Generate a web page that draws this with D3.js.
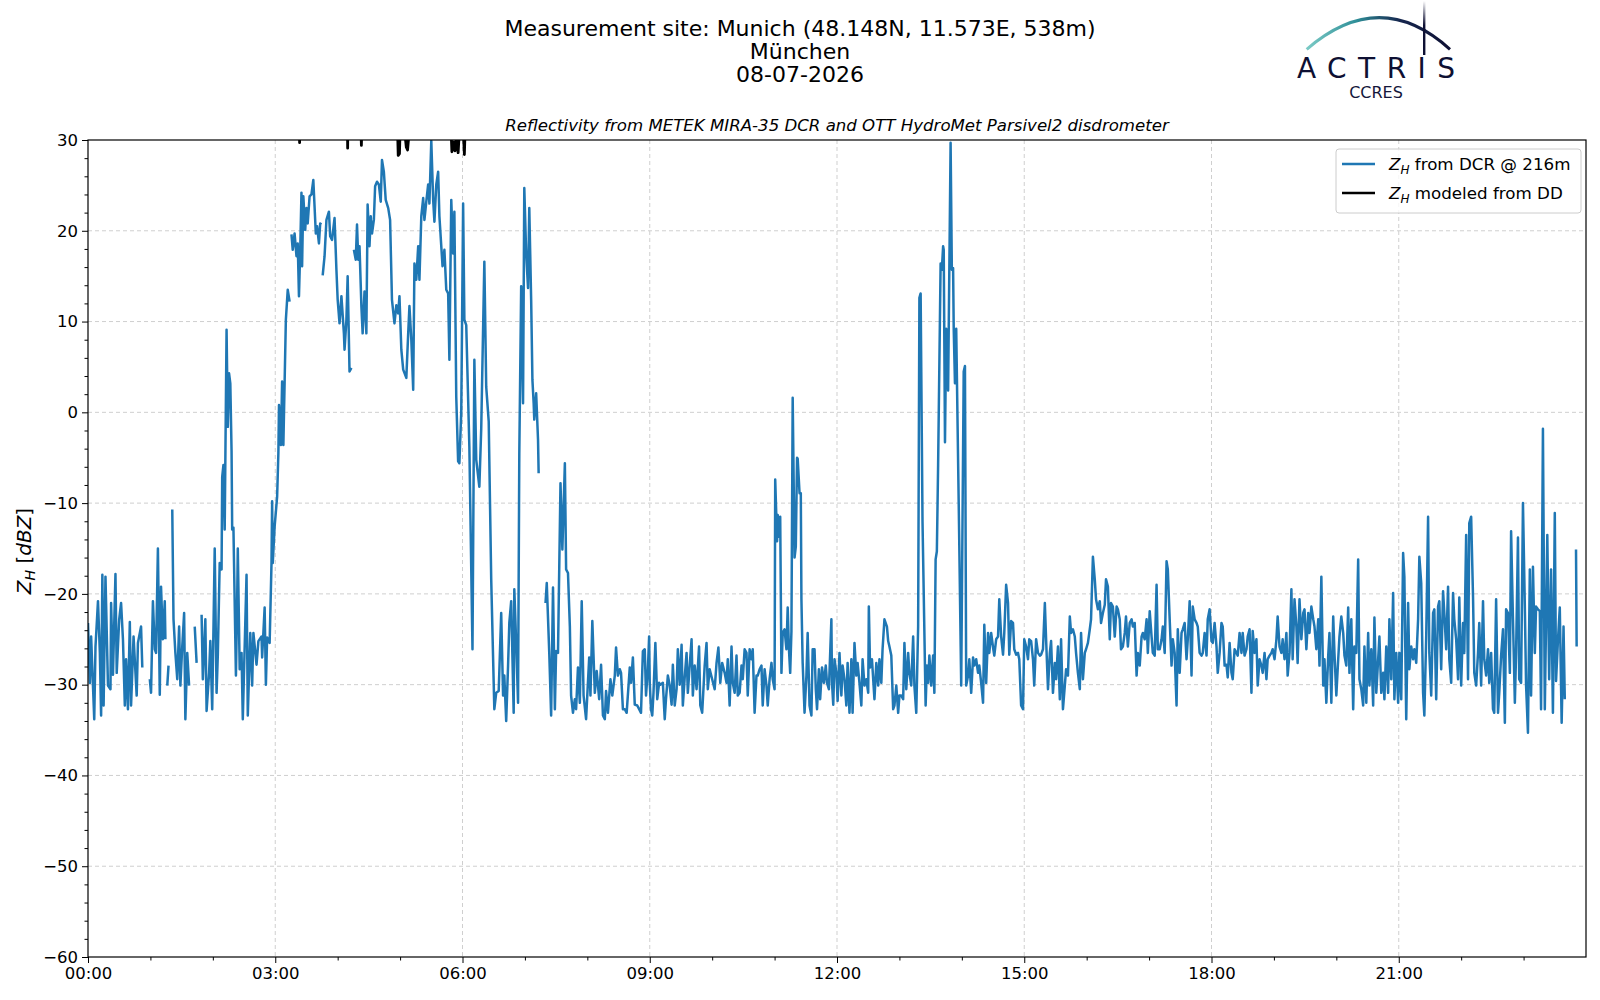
<!DOCTYPE html>
<html lang="en">
<head>
    <title>Reflectivity Munich</title>
    <meta charset="utf-8">
    <script src="https://d3js.org/d3.v7.min.js"></script>
    <style>
        body { margin: 0; background: #fff; }
        text { font-family: "DejaVu Sans", sans-serif; }
    </style>
</head>
<body>
<div id="chart"></div>
<script>

    // Hour axis ticks (major every 3 h, minor every hour)
    const majorHours = [0, 3, 6, 9, 12, 15, 18, 21];
    const minorHours = [1, 2, 4, 5, 7, 8, 10, 11, 13, 14, 16, 17, 19, 20, 22, 23];
    const majorZ = [-60, -50, -40, -30, -20, -10, 0, 10, 20, 30];

    const titleLines = ["Measurement site: Munich (48.148N, 11.573E, 538m)", "München", "08-07-2026"];
    const subTitle = "Reflectivity from METEK MIRA-35 DCR and OTT HydroMet Parsivel2 disdrometer";

    // Z_H from the cloud radar at 216 m: [hour of day, dBZ], null = no data
    const dcrZh = [
        [0.00,-23.2],[0.03,-29.8],[0.05,-24.7],[0.10,-33.8],[0.12,-25.8],[0.16,-20.8],[0.19,-26.5],[0.21,-33.4],
        [0.23,-17.9],[0.25,-32.3],[0.28,-18.1],[0.32,-30.1],[0.36,-30.5],[0.37,-21],[0.40,-28.9],[0.44,-17.8],
        [0.46,-28.7],[0.50,-22.8],[0.53,-21],[0.56,-25],[0.59,-32.3],[0.61,-27.2],[0.64,-32.7],[0.67,-23.1],
        [0.69,-32.3],[0.73,-24.7],[0.78,-31.2],[0.80,-25.4],[0.85,-23.6],[0.87,-28.1],[0.93,null],
        [0.99,-29.4],[1.01,-30.9],[1.04,-20.8],[1.07,-26.1],[1.09,-26.5],[1.12,-15],[1.15,-31.1],[1.17,-19.2],
        [1.20,-25],[1.23,-20.8],[1.24,-25],[1.255,null],[1.27,-30.1],[1.29,-27.9],[1.32,null],
        [1.35,-10.7],[1.37,-22.8],[1.40,-26.5],[1.43,-29.4],[1.46,-23.6],[1.48,-30.1],[1.51,-25.8],[1.54,-22.1],
        [1.56,-33.8],[1.59,-26.5],[1.62,-30.1],[1.66,null],[1.71,-23.6],[1.74,-27.6],[1.78,null],
        [1.82,-22.3],[1.84,-29.4],[1.88,-22.8],[1.90,-32.9],[1.94,-28.7],[1.96,-25.2],[1.99,-32.7],[2.03,-15],
        [2.06,-30.9],[2.08,-26.7],[2.11,-16.6],[2.14,-17.3],[2.15,-7.1],[2.17,-5.8],[2.19,-12.9],[2.22,9.1],
        [2.24,-1.6],[2.26,4.3],[2.28,3.2],[2.30,-4.2],[2.31,-12.9],[2.33,-12.7],[2.37,-29],[2.39,-20.6],
        [2.40,-15],[2.43,-28.3],[2.46,-26.5],[2.48,-33.8],[2.54,-17.9],[2.56,-33.4],[2.60,-24.3],[2.63,-30.1],
        [2.65,-24.3],[2.70,-27.8],[2.73,-25.2],[2.78,-24.7],[2.79,-27],[2.83,-21.5],[2.85,-30],[2.87,-24.8],
        [2.91,-25.4],[2.94,-16.6],[2.95,-9.8],[2.96,-16.6],[2.99,-12.6],[3.03,-9.3],[3.05,-4.5],[3.06,0.8],
        [3.09,-3.6],[3.11,3.4],[3.13,-3.6],[3.17,10.2],[3.20,13.5],[3.23,12.2],[3.245,null],
        [3.26,19.6],[3.28,17.9],[3.31,19.7],[3.34,17.2],[3.36,18.6],[3.38,12.8],[3.40,17.9],[3.42,24.2],
        [3.43,16.1],[3.45,23.8],[3.48,20.1],[3.50,22.5],[3.52,20.8],[3.55,23.8],[3.58,24],[3.61,25.6],
        [3.65,19.7],[3.67,20.5],[3.70,18.6],[3.72,20.8],[3.74,20.7],[3.75,null],
        [3.76,15.1],[3.79,17.2],[3.82,21.2],[3.86,22.1],[3.88,19.4],[3.91,19],[3.95,21.4],[3.98,15.7],
        [4.00,12.4],[4.03,9.8],[4.06,12.8],[4.10,8.7],[4.11,6.9],[4.14,10.2],[4.16,15],[4.19,4.5],
        [4.22,4.9],[4.24,null],
        [4.26,17.9],[4.29,16.8],[4.31,20.7],[4.33,16.8],[4.35,18.3],[4.38,11.7],[4.40,8.7],[4.43,13.3],
        [4.46,8.7],[4.48,22.9],[4.51,18.3],[4.53,21.6],[4.55,19.7],[4.58,21.2],[4.60,24.9],[4.63,25.4],
        [4.66,25.1],[4.69,23.2],[4.71,27.8],[4.74,26.5],[4.77,23.4],[4.81,22.5],[4.84,21.2],[4.87,12.4],
        [4.91,9.8],[4.94,11.8],[4.97,10.9],[4.99,12.8],[5.02,6.9],[5.05,4.7],[5.10,3.8],[5.13,8.7],
        [5.15,11.7],[5.18,8],[5.21,2.5],[5.23,16.4],[5.26,14.6],[5.29,18.3],[5.31,14.6],[5.34,21.6],
        [5.37,23.6],[5.39,21.2],[5.42,23.2],[5.45,25.1],[5.47,23],[5.50,29.9],[5.53,23.4],[5.55,21],
        [5.58,25.1],[5.61,26.5],[5.63,21.6],[5.68,16.1],[5.71,17.9],[5.74,13.5],[5.77,13.1],[5.79,5.8],
        [5.82,23.4],[5.85,17.5],[5.87,22.1],[5.90,1.7],[5.93,-5.4],[5.95,-5.6],[5.98,0],[6.01,23],
        [6.03,10.2],[6.06,9.6],[6.11,-3.8],[6.16,-26.1],[6.19,5.8],[6.22,-5.2],[6.27,-8.2],[6.30,-1.8],
        [6.35,16.6],[6.38,2.8],[6.42,-1],[6.46,-18.4],[6.51,-32.7],[6.54,-30.9],[6.58,-30.7],[6.62,-22.1],
        [6.65,-31.2],[6.67,-29],[6.70,-34],[6.73,-27.9],[6.75,-23.2],[6.78,-20.8],[6.82,-33.1],[6.83,-19.5],
        [6.86,-25.4],[6.89,-32],[6.91,-4.5],[6.94,13.9],[6.97,1],[6.99,24.7],[7.02,17.5],[7.05,13.7],
        [7.07,22.5],[7.10,12.4],[7.12,3.6],[7.14,1],[7.15,-0.8],[7.18,2.1],[7.21,-3],[7.22,-6.7],[7.28,null],
        [7.33,-21],[7.35,-18.8],[7.39,-26.5],[7.42,-33.4],[7.45,-19.3],[7.48,-32.7],[7.50,-26.3],[7.53,-26.5],
        [7.57,-7.8],[7.60,-15.1],[7.64,-5.6],[7.66,-17.3],[7.69,-17.7],[7.72,-23.6],[7.74,-31.2],[7.77,-33.1],
        [7.80,-31.6],[7.82,-32.7],[7.85,-28.1],[7.88,-32],[7.91,-20.8],[7.94,-31.2],[7.98,-33.8],[8.03,-27],
        [8.05,-31.2],[8.08,-23],[8.12,-30.9],[8.15,-28.5],[8.19,-31.6],[8.22,-27.8],[8.25,-33.4],[8.28,-33.8],
        [8.30,-30.7],[8.33,-33.1],[8.37,-29.4],[8.40,-31.2],[8.44,-29],[8.46,-25.9],[8.49,-29],[8.52,-28.3],
        [8.54,-28.7],[8.57,-32.7],[8.60,-32.7],[8.63,-33.1],[8.68,-28.1],[8.70,-29.8],[8.73,-27],[8.76,-32.2],
        [8.80,-32.3],[8.83,-32.7],[8.86,-33.1],[8.89,-26.3],[8.92,-26.1],[8.94,-31.2],[8.97,-28.3],[8.99,-24.7],
        [9.00,-29.8],[9.02,-32.7],[9.04,-33.4],[9.06,-30.9],[9.09,-25.4],[9.12,-31.6],[9.15,-29.8],[9.17,-30],
        [9.21,-29.8],[9.24,-33.8],[9.26,-31.6],[9.29,-29],[9.32,-30.1],[9.35,-32.2],[9.37,-27.8],[9.40,-32.3],
        [9.43,-30.5],[9.45,-26.1],[9.48,-30],[9.51,-25.6],[9.53,-32.3],[9.56,-29.2],[9.59,-26.5],[9.61,-30.9],
        [9.64,-27.9],[9.67,-25],[9.69,-31.2],[9.72,-27.9],[9.75,-30.5],[9.79,-25.8],[9.81,-32.3],[9.84,-33.1],
        [9.88,-27.9],[9.91,-25.4],[9.93,-30.5],[9.96,-28.3],[10.00,-29.4],[10.04,-30.5],[10.07,-27.6],[10.10,-25.9],
        [10.13,-29.8],[10.16,-27.6],[10.20,-28.7],[10.23,-29.8],[10.25,-27.2],[10.28,-32.3],[10.31,-25.8],[10.33,-29.8],
        [10.36,-30.9],[10.39,-26.8],[10.41,-31.2],[10.44,-30.9],[10.47,-27.9],[10.49,-29.4],[10.52,-26.1],[10.55,-26.5],
        [10.57,-31.2],[10.60,-26.1],[10.63,-27.2],[10.65,-26.1],[10.68,-33.1],[10.71,-29],[10.73,-29],[10.76,-28.3],
        [10.79,-27.9],[10.81,-32.3],[10.84,-28.3],[10.87,-30.1],[10.89,-32.3],[10.92,-29.4],[10.95,-27.6],[10.97,-29.4],
        [11.00,-30.5],[11.01,-7.4],[11.04,-14.2],[11.05,-11.3],[11.07,-13.7],[11.09,-11.5],[11.11,-28.7],[11.13,-24.3],
        [11.16,-23.9],[11.19,-26.1],[11.21,-21.5],[11.23,-26.1],[11.25,-28.7],[11.27,-24.1],[11.29,1.6],[11.32,-16],
        [11.34,-14.8],[11.36,-5],[11.37,-5.1],[11.40,-8.9],[11.42,-8.9],[11.43,-20.6],[11.45,-27.6],[11.48,-33.1],
        [11.51,-29],[11.53,-24.3],[11.56,-32.3],[11.59,-33.4],[11.61,-26.1],[11.64,-26.1],[11.66,-30.5],[11.68,-32.7],
        [11.71,-28.3],[11.73,-31.6],[11.76,-28.1],[11.79,-29.8],[11.82,-27.9],[11.84,-29.8],[11.87,-30.5],[11.91,-22.8],
        [11.92,-29.8],[11.94,-32.2],[11.96,-27.2],[11.99,-28.7],[12.01,-31.8],[12.04,-26.5],[12.07,-31.2],[12.09,-27.9],
        [12.12,-29.4],[12.15,-32.3],[12.17,-27.6],[12.20,-33.1],[12.23,-27.2],[12.25,-33.1],[12.28,-25.4],[12.31,-29],
        [12.33,-27.6],[12.36,-29.8],[12.39,-32.3],[12.41,-27.2],[12.44,-30.1],[12.47,-29.4],[12.50,-30.9],[12.51,-21.4],
        [12.53,-28.1],[12.56,-27.2],[12.60,-31.6],[12.63,-27.6],[12.66,-30.1],[12.68,-27.2],[12.71,-29.8],[12.73,-26.1],
        [12.76,-22.8],[12.80,-23.6],[12.82,-25.2],[12.84,-25.8],[12.87,-26.8],[12.90,-32.7],[12.92,-32.3],[12.95,-30.1],
        [12.98,-33.1],[13.00,-31.2],[13.03,-31.2],[13.06,-31.6],[13.08,-25.4],[13.11,-30.5],[13.14,-26.5],[13.16,-28.7],
        [13.19,-30.1],[13.22,-24.7],[13.24,-30.1],[13.27,-33.1],[13.30,-23.6],[13.32,12.6],[13.34,13.1],[13.37,-12],
        [13.42,-32.3],[13.44,-27.9],[13.46,-29.8],[13.48,-26.8],[13.51,-30.1],[13.54,-26.8],[13.56,-30.9],[13.58,-16.2],
        [13.60,-15.3],[13.62,-5.8],[13.66,16.4],[13.68,15.7],[13.70,18.3],[13.71,17.9],[13.73,-3.3],[13.75,9.2],
        [13.77,8.8],[13.78,2.4],[13.82,29.7],[13.84,15.7],[13.86,15.9],[13.87,9.2],[13.89,3.2],[13.91,9.2],
        [13.95,-10],[13.99,-30.1],[14.03,4.5],[14.05,5.1],[14.07,-30.1],[14.10,-29],[14.12,-27.2],[14.15,-30.9],
        [14.18,-27],[14.20,-27.9],[14.23,-27.2],[14.26,-28.7],[14.28,-27.9],[14.31,-29.8],[14.34,-32],[14.36,-23.4],
        [14.39,-29.8],[14.42,-24.3],[14.44,-26.5],[14.47,-24.3],[14.50,-25.9],[14.52,-26.8],[14.55,-25],[14.58,-24.7],
        [14.60,-20.6],[14.63,-24.7],[14.66,-26.7],[14.68,-24.3],[14.71,-19],[14.74,-21],[14.76,-26.7],[14.79,-23],
        [14.82,-23.2],[14.84,-26.1],[14.87,-26.7],[14.90,-26.5],[14.92,-27.2],[14.95,-32.3],[14.98,-32.7],[15.00,-25],
        [15.03,-25.8],[15.06,-27.2],[15.08,-25],[15.11,-25.2],[15.14,-27.2],[15.16,-30.1],[15.19,-25],[15.22,-26.5],
        [15.25,-26.8],[15.27,-26.7],[15.30,-26.1],[15.33,-21],[15.35,-25],[15.38,-30.5],[15.41,-26.5],[15.43,-25.2],
        [15.46,-30.9],[15.49,-27.6],[15.51,-29.4],[15.54,-25.8],[15.57,-31.6],[15.59,-25],[15.62,-32.7],[15.65,-30.1],
        [15.67,-28.3],[15.70,-29],[15.73,-22.5],[15.75,-24.3],[15.78,-23.9],[15.81,-24.7],[15.83,-26.5],[15.86,-28.7],
        [15.89,-30.5],[15.91,-24.3],[15.94,-29.4],[15.97,-26.5],[15.99,-26.1],[16.02,-25.4],[16.05,-23.9],[16.07,-22.8],
        [16.10,-15.9],[16.13,-18.4],[16.15,-20.6],[16.18,-21.7],[16.21,-20.8],[16.23,-23.2],[16.26,-22.1],[16.29,-21.2],
        [16.31,-18.4],[16.34,-19.2],[16.37,-25],[16.39,-21],[16.42,-21.4],[16.45,-24.7],[16.48,-21.4],[16.50,-21.7],
        [16.53,-22.8],[16.55,-26.1],[16.58,-25.8],[16.61,-24.3],[16.63,-22.5],[16.66,-25.8],[16.69,-23.2],[16.72,-22.8],
        [16.74,-23.6],[16.77,-23.2],[16.80,-29],[16.82,-26.5],[16.85,-27.9],[16.88,-24.7],[16.90,-24.3],[16.93,-25],
        [16.96,-22.8],[16.98,-26.5],[17.01,-21.9],[17.04,-24.7],[17.06,-26.5],[17.09,-26.8],[17.12,-19],[17.14,-26.1],
        [17.17,-26.1],[17.20,-25],[17.22,-23.6],[17.25,-26.5],[17.28,-16.4],[17.30,-17.3],[17.33,-22.8],[17.36,-27.9],
        [17.38,-25],[17.41,-26.5],[17.44,-32.3],[17.46,-23.9],[17.49,-28.7],[17.52,-24.3],[17.54,-23.9],[17.57,-23.2],
        [17.60,-27.2],[17.62,-25],[17.65,-20.8],[17.68,-29],[17.70,-21.4],[17.73,-22.8],[17.76,-23.2],[17.78,-23.6],
        [17.81,-26.5],[17.84,-26.8],[17.86,-26.5],[17.89,-24.3],[17.92,-26.8],[17.94,-22.8],[17.97,-21.7],[18.00,-25.2],
        [18.02,-25.4],[18.05,-23.2],[18.08,-25.8],[18.10,-28.7],[18.13,-26.5],[18.16,-23.2],[18.18,-23.6],[18.21,-27.9],
        [18.24,-27.8],[18.26,-29.2],[18.29,-25.4],[18.32,-28.7],[18.34,-29.4],[18.37,-26.1],[18.40,-26.5],[18.42,-26.8],
        [18.45,-24.3],[18.48,-26.5],[18.50,-24.3],[18.53,-26.8],[18.56,-26.1],[18.58,-24.7],[18.61,-23.9],[18.64,-30.9],
        [18.66,-24.1],[18.69,-26.5],[18.72,-25],[18.74,-30.1],[18.77,-27.2],[18.80,-27.9],[18.82,-28.7],[18.85,-26.5],
        [18.88,-29.4],[18.90,-27.2],[18.93,-26.8],[18.96,-26.5],[18.98,-26.1],[19.01,-27.2],[19.04,-25],[19.06,-22.5],
        [19.09,-25.8],[19.12,-26.5],[19.14,-25],[19.17,-27.2],[19.20,-24.3],[19.22,-29],[19.25,-26.5],[19.28,-19.5],
        [19.30,-27.2],[19.33,-20.6],[19.36,-23.6],[19.38,-27.6],[19.41,-20.6],[19.44,-25],[19.47,-22.1],[19.49,-21.7],
        [19.52,-26.1],[19.55,-22.1],[19.57,-24.3],[19.60,-21.4],[19.63,-22.8],[19.65,-23.6],[19.68,-26.1],[19.71,-22.8],
        [19.73,-27.9],[19.76,-18.1],[19.79,-30.1],[19.81,-27.2],[19.84,-32],[19.87,-26.8],[19.89,-24.3],[19.92,-32],
        [19.95,-22.5],[19.97,-26.5],[20.00,-31.2],[20.03,-27.2],[20.05,-24.7],[20.08,-22.5],[20.11,-24.3],[20.13,-26.8],
        [20.16,-27.9],[20.19,-21.5],[20.21,-28.7],[20.24,-22.8],[20.27,-32.7],[20.29,-25.8],[20.32,-26.5],[20.35,-16.2],
        [20.37,-29.4],[20.40,-30.5],[20.43,-32.3],[20.45,-25.8],[20.48,-32],[20.51,-24.3],[20.53,-30.1],[20.56,-26.1],
        [20.59,-32.3],[20.61,-22.6],[20.64,-30.9],[20.67,-27.2],[20.69,-24.7],[20.72,-30.9],[20.75,-28.7],[20.77,-31.6],
        [20.80,-25.8],[20.83,-30.9],[20.85,-22.8],[20.88,-29.4],[20.91,-19.9],[20.93,-31.6],[20.96,-26.5],[20.99,-32],
        [21.01,-26.5],[21.04,-31.6],[21.07,-15.5],[21.09,-18.1],[21.12,-33.8],[21.15,-21],[21.17,-28.3],[21.20,-25.8],
        [21.23,-27.2],[21.25,-26.1],[21.28,-27.6],[21.31,-22.8],[21.33,-15.9],[21.36,-18.8],[21.39,-30.9],[21.41,-33.4],
        [21.44,-24.7],[21.47,-11.5],[21.49,-26.5],[21.52,-31.2],[21.55,-22.1],[21.57,-21.7],[21.60,-31.6],[21.63,-21.4],
        [21.65,-20.8],[21.68,-28.3],[21.71,-19.7],[21.73,-22.1],[21.76,-26.1],[21.79,-19.2],[21.81,-27.2],[21.84,-29.8],
        [21.87,-19.9],[21.89,-22.8],[21.92,-25],[21.95,-29.4],[21.97,-20.4],[22.00,-30.1],[22.03,-23.2],[22.05,-26.5],
        [22.08,-13.5],[22.11,-29.4],[22.13,-12.2],[22.16,-11.5],[22.19,-20.3],[22.21,-28.7],[22.24,-30.1],[22.27,-26.5],
        [22.29,-23.2],[22.32,-30.1],[22.35,-20.8],[22.37,-27.2],[22.40,-29],[22.43,-26.1],[22.45,-29.8],[22.48,-26.5],
        [22.51,-32.7],[22.53,-33.1],[22.56,-20.6],[22.59,-33.1],[22.61,-30.9],[22.64,-26.8],[22.67,-23.9],[22.70,-34.2],
        [22.72,-21.7],[22.75,-22.1],[22.78,-28.7],[22.80,-13.1],[22.83,-22.8],[22.86,-32],[22.88,-26.5],[22.91,-13.8],
        [22.93,-29.4],[22.96,-29.8],[22.99,-10],[23.02,-21.4],[23.04,-30.1],[23.07,-35.3],[23.10,-17.3],[23.12,-31.2],
        [23.15,-17],[23.18,-26.5],[23.20,-21.4],[23.23,-21.7],[23.26,-21.9],[23.28,-32.7],[23.31,-1.8],[23.34,-32.7],
        [23.38,-13.5],[23.41,-29.4],[23.44,-17.3],[23.47,-33.1],[23.50,-11.1],[23.52,-29.6],[23.55,-25.2],[23.58,-21.5],
        [23.61,-34.2],[23.64,-23.6],[23.66,-31.6],[23.75,null],[23.84,-15.1],[23.85,-25.8]
    ];

    // Z_H modeled from the disdrometer: mostly above the 30 dBZ limit
    const ddZh = [
        [3.35,36],[3.385,34],[3.39,29.7],[3.395,34],[3.6,38],[3.9,37],[4.1,36],[4.155,33],[4.16,29.1],[4.165,33],
        [4.3,36],[4.37,32],[4.38,29.4],[4.39,32],[4.6,38],[4.9,36],[4.96,31],[4.97,28.3],[4.99,28.5],[5.0,31],
        [5.08,30.5],[5.10,29.2],[5.12,28.9],[5.14,30.5],[5.3,38],[5.5,40],[5.75,36],[5.82,30.5],[5.83,28.7],
        [5.86,29.8],[5.88,28.8],[5.90,30.2],[5.93,28.6],[5.95,31],[6.0,33],[6.03,28.4],[6.05,33]
    ];

    const margin = {top: 140, left: 88, width: 1498, height: 817};

    const svg = d3.select("#chart")
        .append("svg")
        .attr("width", 1600)
        .attr("height", 1000)
        .style("background", "#fff");

    const x = d3.scaleLinear().domain([0, 24]).range([margin.left, margin.left + margin.width]);
    const y = d3.scaleLinear().domain([-60, 30]).range([margin.top + margin.height, margin.top]);

    const fmtHour = h => String(h).padStart(2, "0") + ":00";

    // Grid
    const grid = svg.append("g")
        .attr("stroke", "#cfcfcf")
        .attr("stroke-width", 1)
        .attr("stroke-dasharray", "4,3");
    grid.selectAll(".gx").data(majorHours.slice(1)).join("line")
        .attr("x1", d => x(d)).attr("x2", d => x(d))
        .attr("y1", margin.top).attr("y2", margin.top + margin.height);
    grid.selectAll(".gy").data(majorZ.slice(1, -1)).join("line")
        .attr("x1", margin.left).attr("x2", margin.left + margin.width)
        .attr("y1", d => y(d)).attr("y2", d => y(d));

    // Axes
    svg.append("g")
        .attr("transform", `translate(0,${margin.top + margin.height})`)
        .call(d3.axisBottom(x).tickValues(majorHours).tickFormat(fmtHour).tickSize(6).tickPadding(4));
    svg.append("g")
        .attr("transform", `translate(0,${margin.top + margin.height})`)
        .call(d3.axisBottom(x).tickValues(minorHours).tickFormat("").tickSize(3.5));

    svg.append("g")
        .attr("transform", `translate(${margin.left},0)`)
        .call(d3.axisLeft(y).tickValues(majorZ).tickFormat(d => d < 0 ? "\u2212" + Math.abs(d) : d).tickSize(6).tickPadding(4));
    svg.append("g")
        .attr("transform", `translate(${margin.left},0)`)
        .call(d3.axisLeft(y).tickValues(d3.range(-58, 30, 2).filter(v => v % 10 !== 0)).tickFormat("").tickSize(3.5));

    svg.selectAll(".tick text")
        .attr("font-family", "DejaVu Sans, sans-serif")
        .attr("font-size", 16.5)
        .attr("fill", "#000");
    svg.selectAll(".tick line").attr("stroke", "#000");
    svg.selectAll(".domain").remove();

    // Lines
    svg.append("clipPath").attr("id", "plotClip")
        .append("rect")
        .attr("x", margin.left).attr("y", margin.top)
        .attr("width", margin.width).attr("height", margin.height);

    const line = d3.line()
        .defined(d => d[1] !== null)
        .x(d => x(d[0]))
        .y(d => y(d[1]));

    const plot = svg.append("g").attr("clip-path", "url(#plotClip)");
    plot.append("path")
        .datum(dcrZh)
        .attr("d", line)
        .attr("fill", "none")
        .attr("stroke", "#1f77b4")
        .attr("stroke-width", 2.5)
        .attr("stroke-linejoin", "round");
    plot.append("path")
        .datum(ddZh)
        .attr("d", line)
        .attr("fill", "none")
        .attr("stroke", "#000")
        .attr("stroke-width", 2.8)
        .attr("stroke-linejoin", "round");

    // Frame
    svg.append("rect")
        .attr("x", margin.left).attr("y", margin.top)
        .attr("width", margin.width).attr("height", margin.height)
        .attr("fill", "none").attr("stroke", "#000").attr("stroke-width", 1.2);

    // Titles
    svg.append("g").selectAll("text").data(titleLines).join("text")
        .attr("x", 800)
        .attr("y", (d, i) => 36 + i * 23)
        .attr("text-anchor", "middle")
        .attr("font-size", 22)
        .text(d => d);

    svg.append("text")
        .attr("x", margin.left + margin.width / 2)
        .attr("y", 131)
        .attr("text-anchor", "middle")
        .attr("font-size", 16.6)
        .attr("font-style", "italic")
        .text(subTitle);

    // Y label: Z_H [dBZ]
    const yl = svg.append("text")
        .attr("transform", `translate(31,551) rotate(-90)`)
        .attr("text-anchor", "middle")
        .attr("font-size", 20);
    yl.append("tspan").attr("font-style", "italic").text("Z");
    yl.append("tspan").attr("font-style", "italic").attr("font-size", 14).attr("dy", 4).text("H");
    yl.append("tspan").attr("dy", -4).text(" [");
    yl.append("tspan").attr("font-style", "italic").text("dBZ");
    yl.append("tspan").text("]");

    // Legend
    const legendItems = [
        {color: "#1f77b4", rest: " from DCR @ 216m"},
        {color: "#000", rest: " modeled from DD"}
    ];
    const lg = svg.append("g");
    lg.append("rect")
        .attr("x", 1336).attr("y", 149)
        .attr("width", 245).attr("height", 64)
        .attr("rx", 3)
        .attr("fill", "#fff").attr("fill-opacity", 0.8)
        .attr("stroke", "#cccccc");
    legendItems.forEach((d, i) => {
        const cy = 164 + i * 29;
        lg.append("line")
            .attr("x1", 1342).attr("x2", 1375)
            .attr("y1", cy).attr("y2", cy)
            .attr("stroke", d.color).attr("stroke-width", 2.5);
        const t = lg.append("text")
            .attr("x", 1389).attr("y", cy + 6)
            .attr("font-size", 16.7);
        t.append("tspan").attr("font-style", "italic").text("Z");
        t.append("tspan").attr("font-style", "italic").attr("font-size", 12).attr("dy", 4).text("H");
        t.append("tspan").attr("dy", -4).text(d.rest);
    });

    // ACTRIS / CCRES logo
    const defs = svg.append("defs");
    const arcGrad = defs.append("linearGradient").attr("id", "arcGrad")
        .attr("gradientUnits", "userSpaceOnUse")
        .attr("x1", 1306).attr("y1", 0).attr("x2", 1450).attr("y2", 0);
    arcGrad.append("stop").attr("offset", "0%").attr("stop-color", "#7ccbc6");
    arcGrad.append("stop").attr("offset", "35%").attr("stop-color", "#2f8f98");
    arcGrad.append("stop").attr("offset", "65%").attr("stop-color", "#16274f");
    arcGrad.append("stop").attr("offset", "100%").attr("stop-color", "#0e1033");
    const barGrad = defs.append("linearGradient").attr("id", "barGrad")
        .attr("x1", 0).attr("y1", 0).attr("x2", 0).attr("y2", 1);
    barGrad.append("stop").attr("offset", "0%").attr("stop-color", "#ffffff");
    barGrad.append("stop").attr("offset", "45%").attr("stop-color", "#0e1033");
    barGrad.append("stop").attr("offset", "100%").attr("stop-color", "#0e1033");

    svg.append("path")
        .attr("d", "M1306.7,49.3 Q1380,-14 1450,49.3")
        .attr("fill", "none")
        .attr("stroke", "url(#arcGrad)")
        .attr("stroke-width", 3);
    svg.append("rect")
        .attr("x", 1423).attr("y", 1)
        .attr("width", 2.4).attr("height", 54)
        .attr("fill", "url(#barGrad)");
    svg.append("text")
        .attr("x", 1297).attr("y", 77.7)
        .attr("textLength", 158).attr("lengthAdjust", "spacing")
        .attr("font-family", "Lato, 'Noto Sans', sans-serif")
        .attr("font-size", 28)
        .attr("fill", "#0e1033")
        .text("ACTRIS");
    svg.append("text")
        .attr("x", 1376).attr("y", 98.3)
        .attr("text-anchor", "middle")
        .attr("font-family", "'Noto Sans', sans-serif")
        .attr("font-size", 16)
        .attr("fill", "#14163a")
        .text("CCRES");
</script>
</body>
</html>
